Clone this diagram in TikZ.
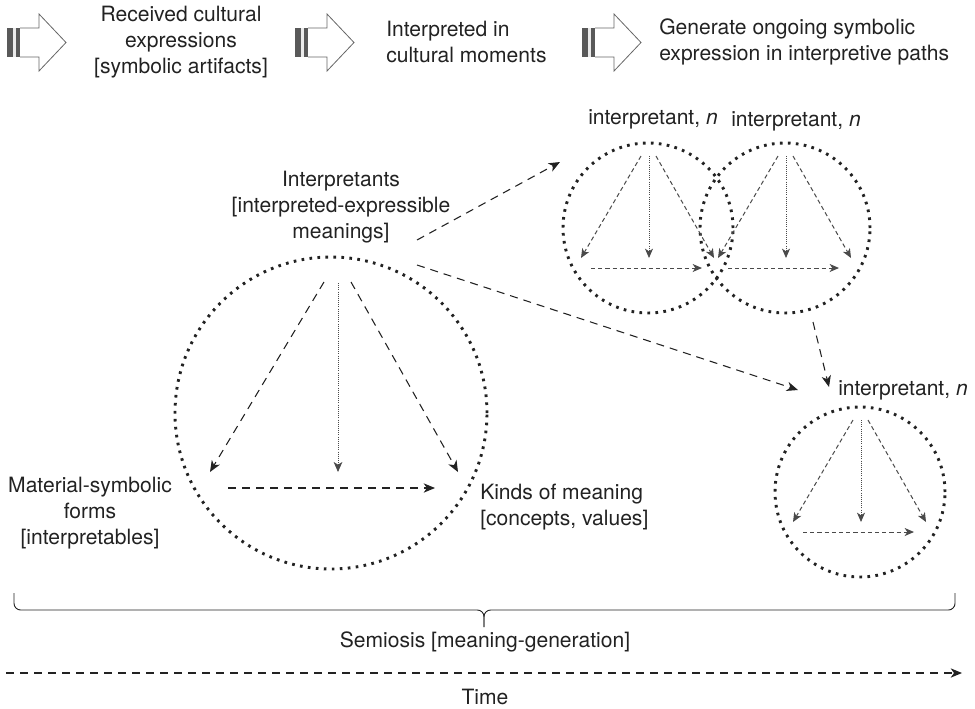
\documentclass[tikz,border=0pt]{standalone}
\usepackage{fontspec}
\setmainfont{TeX Gyre Heros}
\usepackage{tikz}
\usetikzlibrary{arrows.meta,positioning,calc}
\definecolor{InkDark}{HTML}{222222}
\definecolor{InkGrey}{HTML}{4A4A4A}
\newcommand{\smalltri}[1]{%
  \draw[fine] ($(#1)+(-7,-72)$) -- ($(#1)+(-67,30)$);
  \draw[finedot] ($(#1)+(1,-72)$) -- ($(#1)+(1,30)$);
  \draw[fine] ($(#1)+(8,-72)$) -- ($(#1)+(66,30)$);
  \draw[fine] ($(#1)+(-57,40)$) -- ($(#1)+(54,40)$);
}

\begin{document}
\begin{tikzpicture}[
  x=0.75pt,y=-0.75pt,
  txt/.style={font=\fontsize{15.8}{19.5}\selectfont,text=InkDark,inner sep=0pt},
  ring/.style={circle,draw=InkDark,line width=2.2pt,dash pattern=on 2pt off 4pt,inner sep=0pt},
  link/.style={draw=InkDark,line width=0.8pt,dash pattern=on 6pt off 4.5pt,-{Stealth[length=8.5pt,width=7pt,inset=2.5pt]}},
  dotlink/.style={draw=InkGrey,line width=0.6pt,dash pattern=on 0.6pt off 1pt,-{Stealth[length=7.5pt,width=6.5pt,inset=2pt]}},
  fine/.style={draw=InkGrey,line width=0.75pt,dash pattern=on 3.2pt off 2.2pt,-{Stealth[length=7pt,width=6pt,inset=2pt]}},
  finedot/.style={draw=InkGrey,line width=0.6pt,dash pattern=on 0.6pt off 1pt,-{Stealth[length=7pt,width=6pt,inset=2pt]}},
  brace/.style={draw=InkDark,line width=0.7pt,rounded corners=5pt}
]
  \useasboundingbox (0,0) rectangle (975,708);

  % top row of block arrows
  \foreach \x in {7,295,582} {
    \fill[black!65] (\x,28) rectangle ++(6,29);
    \fill[black!8] (\x+6,28) rectangle ++(3,29);
    \fill[black!65] (\x+9,28) rectangle ++(4,29);
    \draw[black!60,line width=0.6pt] (\x+13,28) -- (\x+32,28) -- (\x+32,14) -- (\x+59,42.5)
      -- (\x+32,71) -- (\x+32,57) -- (\x+13,57);
  }
  \node[txt,align=center] (recv) at (181,42) {Received cultural\\expressions\\{[symbolic artifacts]}};
  \node[txt,align=left,anchor=west] (interp) at (386,42) {Interpreted in\\cultural moments};
  \node[txt,align=left,anchor=west] (gen) at (659,42) {Generate ongoing symbolic\\expression in interpretive paths};

  % big circle
  \node[ring,minimum size=234pt] (big) at (331,413) {};
  \node[txt,align=center] (interps) at (341,207) {Interpretants\\{[interpreted-expressible}\\meanings]};
  \node[txt,align=center] (forms) at (90,513) {Material-symbolic\\forms\\{[interpretables]}};
  \node[txt,align=left,anchor=west] (kinds) at (480,507) {Kinds of meaning\\{[concepts, values]}};
  \draw[link] ($(big)+(-7,-131)$) -- ($(big)+(-121,59)$);
  \draw[dotlink] ($(big)+(7,-130)$) -- ($(big)+(7,59)$);
  \draw[link] ($(big)+(20,-131)$) -- ($(big)+(127,59)$);
  \draw[link] ($(big)+(-103,75)$) -- ($(big)+(104,75)$);

  % interpretant circles
  \node[ring,minimum size=127.5pt] (circA) at (648,228) {};
  \node[ring,minimum size=127.5pt] (circB) at (785,228) {};
  \node[ring,minimum size=127.5pt] (circC) at (860,492) {};
  \node[txt] (labA) at (653,119) {interpretant, \textit{n}};
  \node[txt] (labB) at (796,121) {interpretant, \textit{n}};
  \node[txt] (labC) at (903,390) {interpretant, \textit{n}};
  \smalltri{circA}
  \smalltri{circB}
  \smalltri{circC}

  % paths of interpretation
  \coordinate (s1) at (417,240);
  \coordinate (e1) at (560,162);
  \coordinate (s2) at (417,265);
  \coordinate (e2) at (798,390);
  \coordinate (s3) at (813,322);
  \coordinate (e3) at (829,387);
  \draw[link] (s1) -- (e1);
  \draw[link] (s2) -- (e2);
  \draw[link] (s3) -- (e3);

  % semiosis and time
  \coordinate (bl) at (14,593);
  \coordinate (br) at (955,593);
  \coordinate (btip) at (484,627);
  \draw[brace] (bl) -- (14,610) -- (484,610) -- (btip);
  \draw[brace] (br) -- (955,610) -- (484,610) -- (btip);
  \node[txt] (semio) at (485,642) {Semiosis [meaning-generation]};
  \coordinate (t0) at (6,673);
  \coordinate (t1) at (962,673);
  \draw[link] (t0) -- (t1);
  \node[txt] (time) at (485,697) {Time};
\end{tikzpicture}
\end{document}
